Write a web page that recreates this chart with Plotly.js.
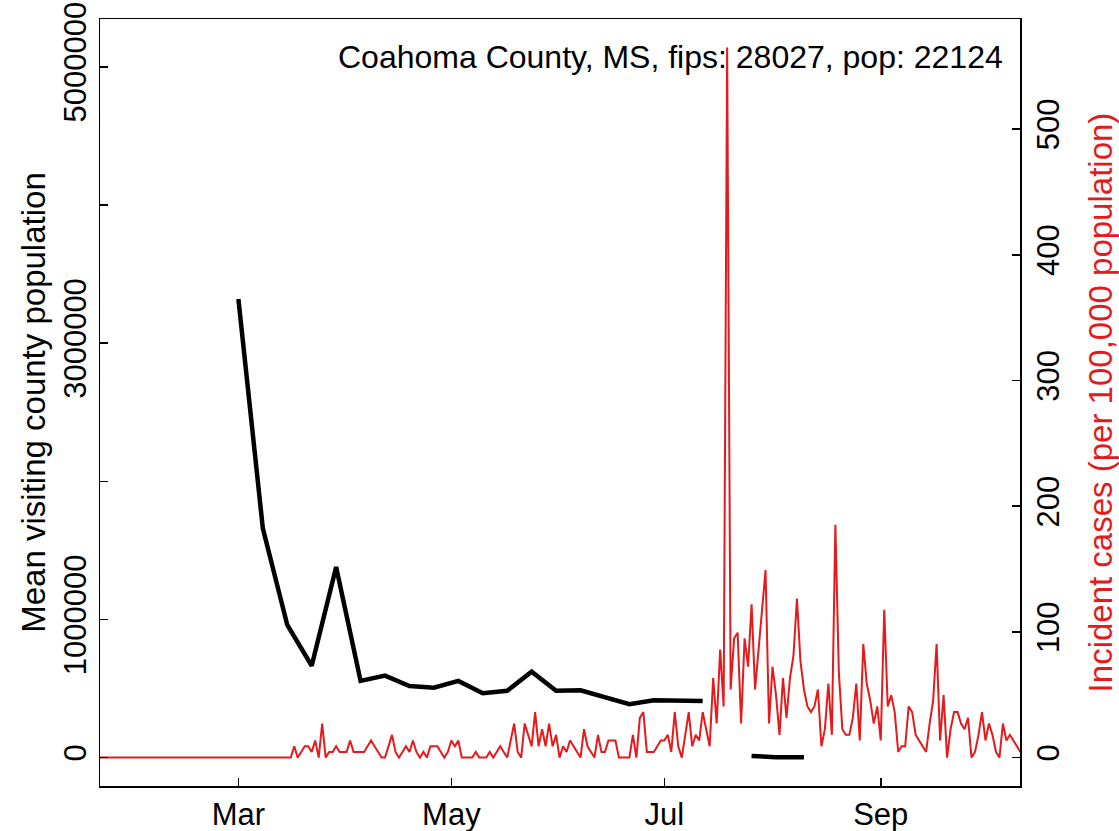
<!DOCTYPE html>
<html><head><meta charset="utf-8">
<script src="https://cdn.plot.ly/plotly-3.0.1.min.js"></script>
<style>html,body{margin:0;padding:0;background:#fff}#chart{width:1119px;height:831px}</style>
</head><body><div id="chart"></div>
<script>
// Weekly mean visiting county population (left axis)
const weekDates = ['2020-03-01','2020-03-08','2020-03-15','2020-03-22','2020-03-29',
  '2020-04-05','2020-04-12','2020-04-19','2020-04-26','2020-05-03','2020-05-10',
  '2020-05-17','2020-05-24','2020-05-31','2020-06-07','2020-06-14','2020-06-21',
  '2020-06-28','2020-07-05','2020-07-12','2020-07-19','2020-07-26','2020-08-02','2020-08-10'];
const visitingPop = [3320000,1660000,960000,665000,1380000,555000,593000,518000,506000,
  555000,466000,484000,622000,484000,487000,437000,386000,415000,410000,410000,null,
  12000,3000,3000];

// Daily incident cases per 100,000 (right axis), starting 2020-01-21
const caseStart = '2020-01-21';
const incidence = [
  // Jan 21-31
  0,0,0,0,0,0,0,0,0,0,0,
  // Feb
  0,0,0,0,0,0,0,0,0,0,0,0,0,0,0,0,0,0,0,0,0,0,0,0,0,0,0,0,0,
  // Mar 1-16
  0,0,0,0,0,0,0,0,0,0,0,0,0,0,0,0,
  // Mar 17-31
  9.0,0,4.5,9.0,9.0,4.5,13.6,0,27.1,0,4.5,4.5,9.0,4.5,4.5,
  // Apr
  4.5,13.6,4.5,4.5,4.5,4.5,9.0,13.6,9.0,4.5,0,0,9.0,18.1,4.5,0,4.5,9.0,4.5,13.6,
  4.5,0,4.5,0,9.0,9.0,9.0,4.5,0,4.5,
  // May
  13.6,9.0,13.6,0,0,0,0,4.5,0,0,0,4.5,0,4.5,9.0,4.5,0,13.6,27.1,4.5,
  0,27.1,18.1,9.0,36.2,9.0,22.6,9.0,27.1,9.0,18.1,
  // Jun
  0,9.0,4.5,13.6,9.0,4.5,0,22.6,9.0,4.5,0,18.1,4.5,4.5,13.6,13.6,13.6,0,0,0,
  0,18.1,0,31.6,36.2,4.5,4.5,4.5,9.0,13.6,
  // Jul
  13.6,18.1,4.5,36.2,9.0,0,18.1,36.2,9.0,18.1,13.6,36.2,22.6,9.0,63.3,27.1,85.9,40.7,565.0,54.2,
  94.9,99.4,27.1,94.9,72.3,122.0,54.2,85.9,117.5,149.2,27.1,
  // Aug
  72.3,49.7,18.1,63.3,31.6,63.3,81.4,126.6,76.8,54.2,40.7,36.2,40.7,54.2,9.0,22.6,58.8,18.1,185.3,67.8,
  22.6,18.1,18.1,31.6,58.8,13.6,90.4,58.8,45.2,27.1,40.7,
  // Sep
  13.6,117.5,40.7,49.7,36.2,4.5,9.0,9.0,40.7,36.2,18.1,13.6,9.0,4.5,27.1,45.2,90.4,13.6,49.7,0,
  22.6,36.2,36.2,27.1,22.6,31.6,0,4.5,18.1,36.2,
  // Oct 1-11
  13.6,27.1,18.1,4.5,0,27.1,13.6,18.1,13.6,9.0,4.5
];

const monthTicks = ['2020-03-01','2020-05-01','2020-07-01','2020-09-01'];
const monthLabels = ['Mar','May','Jul','Sep'];
const leftTicks = [0,1000000,2000000,3000000,4000000,5000000];
const leftLabels = ['0','1000000','','3000000','','5000000'];
const rightTicks = [0,100,200,300,400,500];
const rightLabels = ['0','100','200','300','400','500'];
const titleText = 'Coahoma County, MS, fips: 28027, pop: 22124';

function dayList(start, n) {
  const out = [];
  const d0 = new Date(start + 'T00:00:00Z');
  for (let i = 0; i < n; i++) {
    const d = new Date(d0.getTime() + i * 86400000);
    out.push(d.toISOString().slice(0, 10));
  }
  return out;
}
const caseDates = dayList(caseStart, incidence.length);

const FONT = 'Liberation Sans, Arial, Helvetica, sans-serif';
const RED = '#E41A1C';
const FS = 31;
const FT = 33;

const traces = [
  {x: caseDates, y: incidence, type: 'scatter', mode: 'lines', yaxis: 'y2',
   line: {color: RED, width: 2}, hoverinfo: 'skip'},
  {x: weekDates, y: visitingPop, type: 'scatter', mode: 'lines', yaxis: 'y',
   connectgaps: false, line: {color: '#000', width: 4.5}, hoverinfo: 'skip'}
];

const layout = {
  width: 1119, height: 831,
  margin: {l: 100, r: 99, t: 19, b: 45, pad: 0},
  paper_bgcolor: '#fff', plot_bgcolor: '#fff',
  showlegend: false,
  font: {family: FONT, size: FS, color: '#000'},
  xaxis: {
    type: 'date', range: ['2020-01-21 08:35', '2020-10-10 21:20'],
    tickmode: 'array', tickvals: monthTicks, ticktext: monthLabels,
    ticks: 'inside', ticklen: 8, tickwidth: 1.5, tickcolor: '#000',
    showline: true, linecolor: '#000', linewidth: 1.5, mirror: true,
    showgrid: false, zeroline: false,
    tickfont: {family: FONT, size: FS, color: '#000'}
  },
  yaxis: {
    range: [-205600, 5346000],
    tickmode: 'array', tickvals: leftTicks, ticktext: leftLabels, tickangle: -90,
    ticks: 'inside', ticklen: 8, tickwidth: 1.5, tickcolor: '#000',
    showline: true, linecolor: '#000', linewidth: 1.5,
    showgrid: false, zeroline: false,
    tickfont: {family: FONT, size: FS, color: '#000'},
    title: {text: 'Mean visiting county population', font: {family: FONT, size: FT, color: '#000'}, standoff: 2}
  },
  yaxis2: {
    overlaying: 'y', side: 'right', range: [-22.6, 587.6],
    tickmode: 'array', tickvals: rightTicks, ticktext: rightLabels, tickangle: -90,
    ticks: 'inside', ticklen: 8, tickwidth: 1.5, tickcolor: '#000',
    showline: true, linecolor: '#000', linewidth: 1.5,
    showgrid: false, zeroline: false,
    tickfont: {family: FONT, size: FS, color: '#000'},
    title: {text: 'Incident cases (per 100,000 population)', font: {family: FONT, size: FT, color: RED}, standoff: 24}
  },
  annotations: [{
    text: titleText, xref: 'paper', yref: 'paper', x: 0.9837, y: 0.951,
    xanchor: 'right', yanchor: 'middle', showarrow: false,
    font: {family: FONT, size: 32, color: '#000'}
  }]
};

Plotly.newPlot('chart', traces, layout, {staticPlot: true, displayModeBar: false});
</script>
</body></html>
